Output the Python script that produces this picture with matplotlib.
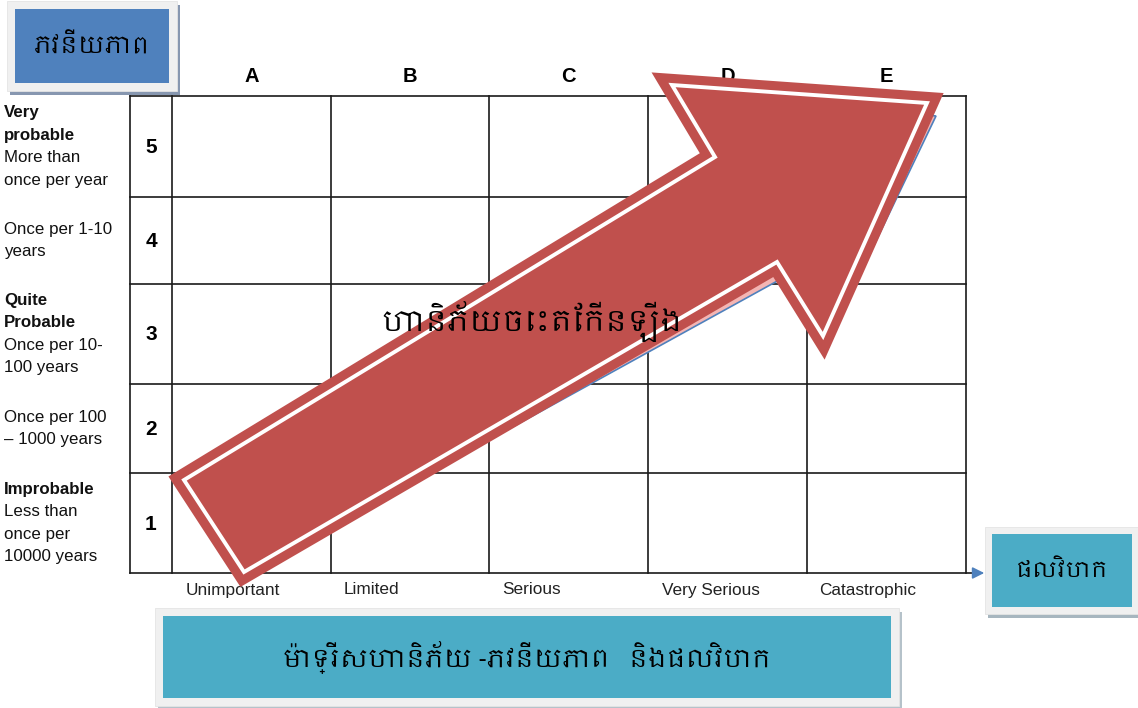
import matplotlib.pyplot as plt
from matplotlib import font_manager
from matplotlib.patches import Rectangle, Polygon

# Khmer needs its own font, use one if there is any installed
khmer = [f.name for f in font_manager.fontManager.ttflist if 'Khmer' in f.name]
KHMER = khmer[:1] + ['DejaVu Sans']
LATIN = ['Liberation Sans', 'DejaVu Sans']

# Data
impact_cols = ['A', 'B', 'C', 'D', 'E']
impact_labels = ['Unimportant', 'Limited', 'Serious', 'Very Serious', 'Catastrophic']
prob_levels = ['5', '4', '3', '2', '1']
prob_text = [
    [('Very', 'bold'), ('probable', 'bold'), ('More than', 'normal'), ('once per year', 'normal')],
    [('Once per 1-10', 'normal'), ('years', 'normal')],
    [('Quite', 'bold'), ('Probable', 'bold'), ('Once per 10-', 'normal'), ('100 years', 'normal')],
    [('Once per 100', 'normal'), ('\u2013 1000 years', 'normal')],
    [('Improbable', 'bold'), ('Less than', 'normal'), ('once per', 'normal'), ('10000 years', 'normal')],
]
title_prob = 'ភវនីយភាព'
title_impact = 'ផលវិបាក'
title_main = 'ម៉ាទ្រីសហានិភ័យ -ភវនីយភាព   និងផលវិបាក'
arrow_text = 'ហានិភ័យចេះតែកើនឡើង'

# Layout (pixels, y downwards)
col_edges = [130, 172, 331, 489, 648, 807, 966]
row_edges = [96, 197, 284, 384, 473, 573]
label_x_offset = [-19, -39, -37, -17, -19]
arrow_pts = [(184, 480), (715, 157), (672, 85), (927, 103), (823, 336), (777, 262), (244, 572)]
shadow_pts = [(184, 480), (715, 157), (672, 85), (936, 116), (842, 312), (790, 274), (244, 575)]

RED = '#c0504d'
BLUE = '#4f81bd'
TEAL = '#4bacc6'
FRAME = '#f0f0f0'

fig = plt.figure(figsize=(11.38, 7.08), dpi=100)
ax = fig.add_axes([0, 0, 1, 1])
ax.set_xlim(0, 1138)
ax.set_ylim(708, 0)
ax.axis('off')

# grid
for x in col_edges:
    ax.plot([x, x], [row_edges[0], row_edges[-1]], color='#1a1a1a', lw=1.2, zorder=1)
for y in row_edges[:-1]:
    ax.plot([col_edges[0], col_edges[-1]], [y, y], color='#1a1a1a', lw=1.2, zorder=1)
ax.plot([col_edges[0], 976], [row_edges[-1]] * 2, color='#1a1a1a', lw=1.2, zorder=1)
ax.annotate('', xy=(987, row_edges[-1]), xytext=(972, row_edges[-1]),
            arrowprops=dict(arrowstyle='-|>,head_length=0.7,head_width=0.35', color=BLUE, lw=1.2))

# column letters and impact labels
for i, (c, lab) in enumerate(zip(impact_cols, impact_labels)):
    cx = (col_edges[i + 1] + col_edges[i + 2]) / 2
    ax.text(cx, 77, c, ha='center', va='center', fontsize=14.5, fontweight='bold', family=LATIN, zorder=1)
    ax.text(cx + label_x_offset[i], 590, lab, ha='center', va='center', fontsize=12.4, family=LATIN, color='#222222')

# probability numbers and descriptions
for j, (n, lines) in enumerate(zip(prob_levels, prob_text)):
    cy = (row_edges[j] + row_edges[j + 1]) / 2
    ax.text(151, cy + 1, n, ha='center', va='center', fontsize=15, fontweight='bold', family=LATIN)
    y0 = cy - (len(lines) - 1) * 22.5 / 2
    for k, (t, w) in enumerate(lines):
        ax.text(4, y0 + k * 22.5, t, ha='left', va='center', fontsize=12.2, fontweight=w, family=LATIN, color='#111111')


def box(x0, y0, x1, y1, pad, color, shadow, text, size):
    ax.add_patch(Rectangle((x0 - pad + 3, y0 - pad + 4), x1 - x0 + 2 * pad, y1 - y0 + 2 * pad,
                           facecolor=shadow, edgecolor='none', zorder=4))
    ax.add_patch(Rectangle((x0 - pad, y0 - pad), x1 - x0 + 2 * pad, y1 - y0 + 2 * pad,
                           facecolor=FRAME, edgecolor='#e4e4e4', lw=0.6, zorder=4))
    ax.add_patch(Rectangle((x0, y0), x1 - x0, y1 - y0, facecolor=color, edgecolor='none', zorder=5))
    ax.text((x0 + x1) / 2, (y0 + y1) / 2, text, ha='center', va='center', fontsize=size,
            fontweight='bold', family=KHMER, zorder=6)


box(15, 9, 169, 83, 8, BLUE, '#8797b0', title_prob, 17)
box(992, 534, 1132, 607, 7, TEAL, '#a7b6bf', title_impact, 16)
box(163, 616, 891, 698, 8, TEAL, '#b5c2ca', title_main, 18)

# big arrow: shadow copy, then red arrow with double outline
ax.add_patch(Polygon(shadow_pts, closed=True, facecolor='#f4b5b3', edgecolor=BLUE, lw=1.2, zorder=2))
ax.add_patch(Polygon(arrow_pts, closed=True, facecolor=RED, edgecolor=RED, lw=16, joinstyle='miter', zorder=3))
ax.add_patch(Polygon(arrow_pts, closed=True, facecolor='none', edgecolor='white', lw=2.8, joinstyle='miter', zorder=3))
ax.text(532, 322, arrow_text, ha='center', va='center', fontsize=21, fontweight='bold', family=KHMER, zorder=6)

fig.savefig('out.png', dpi=100)
